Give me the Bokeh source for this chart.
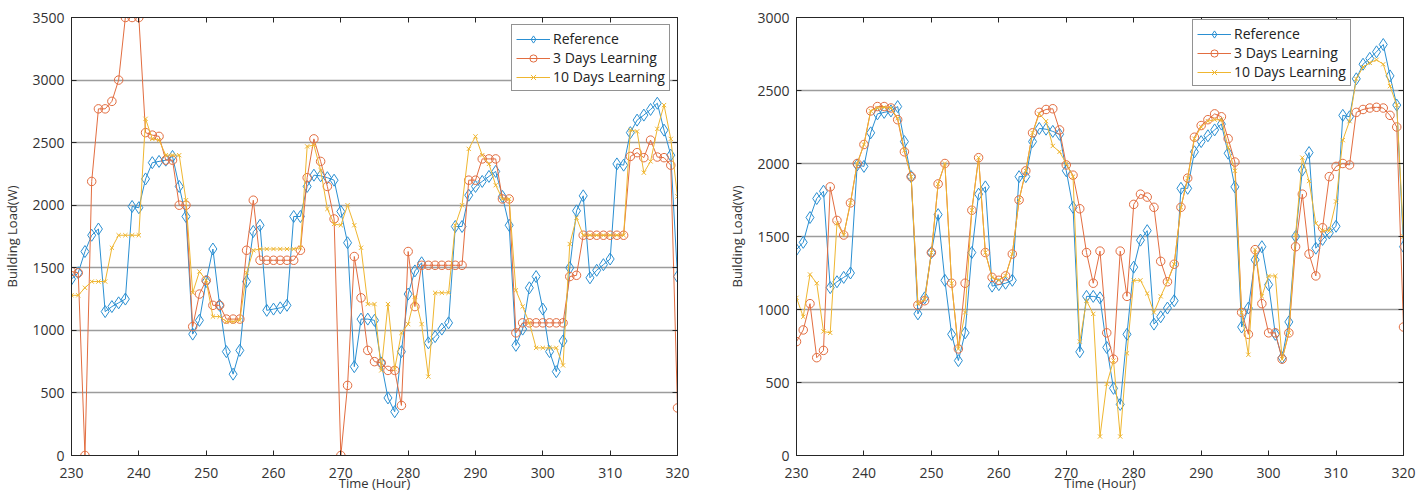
from bokeh.plotting import figure
from bokeh.layouts import row
from bokeh.models import LinearAxis, FixedTicker, Legend, LegendItem, Range1d
from bokeh.embed import file_html
from bokeh.resources import INLINE

hours = list(range(230, 321))
x_ticks = [230, 240, 250, 260, 270, 280, 290, 300, 310, 320]
y_ticks_left = [0, 500, 1000, 1500, 2000, 2500, 3000, 3500]
y_ticks_right = [0, 500, 1000, 1500, 2000, 2500, 3000]

reference = [
    1410, 1460, 1630, 1760, 1810, 1150, 1190, 1220, 1250, 1990,
    1980, 2210, 2340, 2350, 2360, 2390, 2150, 1910, 970, 1080,
    1390, 1650, 1200, 830, 650, 840, 1390, 1790, 1840, 1160,
    1170, 1180, 1200, 1910, 1910, 2150, 2240, 2235, 2220, 2200,
    1950, 1700, 710, 1090, 1090, 1080, 740, 460, 350, 830,
    1290, 1475, 1540, 900, 950, 1010, 1060, 1830, 1830, 2080,
    2150, 2190, 2230, 2270, 2070, 1840, 880, 1010, 1340, 1430,
    1170, 830, 670, 915, 1500, 1955, 2075, 1420, 1480, 1525,
    1570, 2330, 2320, 2580, 2680, 2720, 2765, 2815, 2600, 2400,
    1430,
]

left_3days = [
    1470, 1460, 0, 2190, 2770, 2770, 2830, 3000, 3500, 3500,
    3500, 2580, 2560, 2550, 2360, 2360, 2000, 2000, 1030, 1290,
    1400, 1200, 1200, 1090, 1090, 1090, 1640, 2040, 1560, 1560,
    1560, 1560, 1560, 1560, 1640, 2220, 2530, 2350, 2150, 1890,
    0, 560, 1590, 1260, 840, 750, 740, 680, 680, 400,
    1630, 1190, 1520, 1520, 1520, 1520, 1520, 1520, 1520, 2200,
    2200, 2370, 2370, 2370, 2050, 2050, 980, 1060, 1060, 1060,
    1060, 1060, 1060, 1060, 1430, 1440, 1760, 1760, 1760, 1760,
    1760, 1760, 1760, 2390, 2420, 2380, 2520, 2385, 2380, 2320,
    380,
]

left_10days = [
    1280, 1280, 1340, 1390, 1390, 1390, 1660, 1760, 1760, 1760,
    1760, 2690, 2530, 2520, 2400, 2400, 2400, 2040, 1300, 1470,
    1400, 1110, 1110, 1070, 1070, 1080, 1460, 1640, 1650, 1650,
    1650, 1650, 1650, 1650, 1660, 2470, 2480, 2280, 1970, 1850,
    1840, 2000, 1840, 1660, 1210, 1210, 680, 1210, 690, 980,
    1050, 1270, 1050, 630, 1300, 1300, 1300, 1840, 2000, 2450,
    2550, 2400, 2330, 2160, 2050, 2050, 1320, 1190, 1060, 860,
    860, 860, 860, 720, 1690, 1900, 1760, 1760, 1760, 1760,
    1760, 1760, 1760, 2600, 2590, 2260, 2350, 2610, 2800, 2530,
    2070,
]

right_3days = [
    780, 860, 1040, 670, 720, 1840, 1610, 1510, 1730, 2000,
    2130, 2360, 2390, 2390, 2380, 2300, 2080, 1910, 1030, 1060,
    1390, 1860, 2000, 1180, 730, 1180, 1680, 2040, 1390, 1220,
    1200, 1230, 1380, 1750, 1950, 2210, 2350, 2370, 2375, 2230,
    1990, 1920, 1690, 1390, 1180, 1400, 840, 660, 1400, 1090,
    1720, 1790, 1770, 1700, 1330, 1190, 1310, 1700, 1900, 2180,
    2260, 2300, 2340, 2320, 2170, 2010, 980, 830, 1410, 1040,
    840, 840, 660, 840, 1430, 1790, 1380, 1230, 1560, 1910,
    1980, 2000, 1990, 2350, 2370, 2380, 2385, 2380, 2330, 2250,
    880,
]

right_10days = [
    1080, 950, 1240, 1180, 850, 840, 1590, 1510, 1730, 2000,
    2130, 2360, 2380, 2385, 2380, 2310, 2090, 1910, 1040, 1070,
    1390, 1860, 2000, 1180, 730, 980, 1680, 2040, 1390, 1220,
    1200, 1230, 1380, 1750, 1950, 2210, 2340, 2290, 2120, 2080,
    2000, 1910, 780, 1060, 970, 130, 490, 650, 130, 700,
    1200, 1200, 1110, 980, 1090, 1190, 1310, 1700, 1900, 2170,
    2250, 2290, 2300, 2300, 2110, 1950, 980, 690, 1410, 1090,
    1230, 1230, 660, 840, 1510, 2040, 1880, 1590, 1540, 1540,
    1740, 2160, 2290, 2580, 2660, 2690, 2710, 2680, 2530, 2400,
    1500,
]

series_names = ["Reference", "3 Days Learning", "10 Days Learning"]
x_label = "Time (Hour)"
y_label = "Building Load(W)"

BLUE = "#2a8fd2"
ORANGE = "#e26d40"
YELLOW = "#efb630"
DARK = "#262626"
FONT = "Open Sans"


def make_plot(ymax, yticks, ref, d3, d10, bl, br, bt, legend_xy):
    p = figure(width=709, height=494, x_range=Range1d(230, 320), y_range=Range1d(0, ymax),
               output_backend="svg", toolbar_location=None,
               min_border_left=bl, min_border_right=br, min_border_top=bt, min_border_bottom=39)
    p.outline_line_color = DARK
    p.outline_line_width = 1
    p.xgrid.visible = False
    p.ygrid.ticker = FixedTicker(ticks=yticks)
    p.ygrid.grid_line_color = "#9c9c9c"
    p.ygrid.grid_line_width = 1.3

    p.xaxis.ticker = FixedTicker(ticks=x_ticks)
    p.yaxis.ticker = FixedTicker(ticks=yticks)
    p.xaxis.axis_label = x_label
    p.yaxis.axis_label = y_label
    for ax in (p.xaxis[0], p.yaxis[0]):
        ax.major_tick_in = 5
        ax.major_tick_out = 0
        ax.minor_tick_line_color = None
        ax.axis_line_color = DARK
        ax.major_tick_line_color = DARK
        ax.major_label_text_font = FONT
        ax.major_label_text_font_size = "14px"
        ax.major_label_text_color = "#333333"
        ax.axis_label_text_font = FONT
        ax.axis_label_text_font_size = "13px"
        ax.axis_label_text_font_style = "normal"
        ax.axis_label_text_color = "#333333"
    p.xaxis.major_label_standoff = 12
    p.xaxis.axis_label_standoff = -7
    p.yaxis.major_label_standoff = 7
    p.yaxis.axis_label_standoff = 8

    top = LinearAxis(ticker=FixedTicker(ticks=x_ticks), major_tick_in=5, major_tick_out=0,
                     minor_tick_line_color=None, axis_line_color=DARK, major_tick_line_color=DARK,
                     major_label_text_font_size="0px", major_label_text_color=None,
                     major_label_standoff=0)
    right = LinearAxis(ticker=FixedTicker(ticks=yticks), major_tick_in=5, major_tick_out=0,
                       minor_tick_line_color=None, axis_line_color=DARK, major_tick_line_color=DARK,
                       major_label_text_font_size="0px", major_label_text_color=None,
                       major_label_standoff=0)
    p.add_layout(top, "above")
    p.add_layout(right, "right")

    l1 = p.line(hours, ref, line_color=BLUE, line_width=1)
    s1 = p.scatter(hours, ref, marker="diamond", size=12, line_color=BLUE, fill_color=None, line_width=1)
    l2 = p.line(hours, d3, line_color=ORANGE, line_width=1)
    s2 = p.scatter(hours, d3, marker="circle", size=8.5, line_color=ORANGE, fill_color=None, line_width=1)
    l3 = p.line(hours, d10, line_color=YELLOW, line_width=1)
    s3 = p.scatter(hours, d10, marker="x", size=6, line_color=YELLOW, line_width=1)

    legend = Legend(items=[LegendItem(label=series_names[0], renderers=[l1, s1]),
                           LegendItem(label=series_names[1], renderers=[l2, s2]),
                           LegendItem(label=series_names[2], renderers=[l3, s3])],
                    location=legend_xy)
    legend.border_line_color = DARK
    legend.border_line_width = 1
    legend.background_fill_color = "white"
    legend.background_fill_alpha = 1
    legend.label_text_font = FONT
    legend.label_text_font_size = "14px"
    legend.label_text_color = "#222222"
    legend.glyph_width = 34
    legend.glyph_height = 18
    legend.label_height = 18
    legend.label_standoff = 3
    legend.spacing = 0
    legend.padding = 4
    legend.margin = 0
    p.add_layout(legend)
    return p


p1 = make_plot(3500, y_ticks_left, reference, left_3days, left_10days, 68, 32, 15, (440, 364))
p2 = make_plot(3000, y_ticks_right, reference, right_3days, right_10days, 87, 15, 17, (396, 369))

layout = row(p1, p2)
open("out.html", "w").write(file_html(layout, INLINE))
